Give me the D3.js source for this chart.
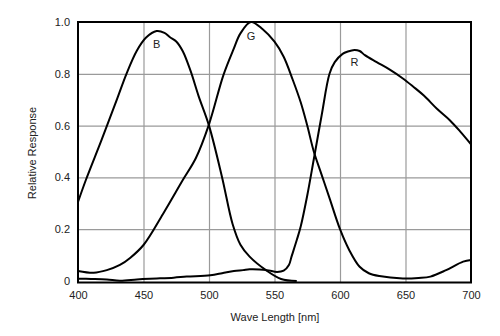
<!DOCTYPE html>
<html>
<head>
<meta charset="utf-8">
<script src="https://cdn.jsdelivr.net/npm/d3@7/dist/d3.min.js"></script>
<style>
  body { margin: 0; background: #fff; }
  svg { display: block; }
  text { font-family: "Liberation Sans", Arial, sans-serif; }
</style>
</head>
<body>
<svg id="chart" width="500" height="336"></svg>
<script>
// ---- data ----
const xTicks = [400, 450, 500, 550, 600, 650, 700];
const yTicks = [0, 0.2, 0.4, 0.6, 0.8, 1.0];
const yTickLabels = ["0", "0.2", "0.4", "0.6", "0.8", "1.0"];

const blueNm  = [400, 406, 418, 430, 437, 445, 452, 460, 466, 470, 475, 480, 486, 492, 500, 510, 518, 524, 531, 544, 555, 567];
const blueVal = [0.305, 0.39, 0.545, 0.705, 0.80, 0.89, 0.94, 0.965, 0.958, 0.942, 0.925, 0.887, 0.81, 0.715, 0.60, 0.40, 0.22, 0.14, 0.094, 0.04, 0.008, 0.0];

const greenNm  = [400, 412, 422, 432, 440, 450, 465, 480, 490, 500, 511, 519, 524, 532, 541, 550, 557, 564, 570, 575, 580, 586, 592, 600, 607, 615, 622, 630, 648, 660, 669, 681, 694, 700];
const greenVal = [0.039, 0.032, 0.042, 0.062, 0.09, 0.139, 0.26, 0.39, 0.475, 0.605, 0.795, 0.898, 0.956, 1.0, 0.972, 0.924, 0.866, 0.776, 0.69, 0.6, 0.5, 0.41, 0.32, 0.2, 0.12, 0.055, 0.03, 0.019, 0.01, 0.012, 0.017, 0.042, 0.075, 0.081];

const redNm  = [400, 410, 422, 432, 445, 455, 473, 483, 501, 510, 519, 526, 531, 544, 552, 557, 561, 563, 567, 570, 575, 580, 586, 592, 596, 602, 606, 611, 615, 619, 628, 638, 648, 656, 664, 674, 684, 692, 700];
const redVal = [0.009, 0.008, 0.006, 0.001, 0.006, 0.009, 0.013, 0.017, 0.022, 0.03, 0.039, 0.042, 0.045, 0.042, 0.035, 0.04, 0.062, 0.094, 0.158, 0.21, 0.33, 0.47, 0.64, 0.80, 0.845, 0.877, 0.886, 0.892, 0.888, 0.872, 0.845, 0.816, 0.782, 0.75, 0.716, 0.665, 0.62, 0.576, 0.528];

const curveLabels = ["B", "G", "R"];
const labelNm  = [460, 532, 611];
const labelVal = [0.91, 0.94, 0.84];

// ---- layout ----
const svg = d3.select("#chart");
const x = d3.scaleLinear().domain([400, 700]).range([78, 471]);
const y = d3.scaleLinear().domain([0, 1]).range([281, 22]);

// gridlines
svg.append("g")
  .attr("transform", `translate(0,${y(0) + 1.5})`)
  .call(d3.axisBottom(x).tickValues(xTicks.slice(1, -1)).tickSize(-(y(0) + 1.5 - y(1))).tickFormat(""))
  .call(g => g.select(".domain").remove())
  .call(g => g.selectAll("line").attr("stroke", "#9a9a9a").attr("stroke-width", 1.2));
svg.append("g")
  .attr("transform", `translate(${x(400)},0)`)
  .call(d3.axisLeft(y).tickValues(yTicks.slice(1, -1)).tickSize(-(x(700) - x(400))).tickFormat(""))
  .call(g => g.select(".domain").remove())
  .call(g => g.selectAll("line").attr("stroke", "#9a9a9a").attr("stroke-width", 1.2));

// tick labels
svg.append("g")
  .attr("transform", `translate(0,${y(0) + 2})`)
  .call(d3.axisBottom(x).tickValues(xTicks).tickSize(0).tickPadding(8).tickFormat(d3.format("d")))
  .call(g => g.select(".domain").remove())
  .call(g => g.selectAll("text").attr("font-size", 11).attr("fill", "#222").attr("font-family", "Liberation Sans, Arial, sans-serif"));
svg.append("g")
  .attr("transform", `translate(${x(400)},0)`)
  .call(d3.axisLeft(y).tickValues(yTicks).tickSize(0).tickPadding(8).tickFormat((d, i) => yTickLabels[i]))
  .call(g => g.select(".domain").remove())
  .call(g => g.selectAll("text").attr("font-size", 11).attr("fill", "#222").attr("font-family", "Liberation Sans, Arial, sans-serif"));

// frame
svg.append("rect")
  .attr("x", x(400)).attr("y", y(1))
  .attr("width", x(700) - x(400)).attr("height", y(0) + 1.5 - y(1))
  .attr("fill", "none").attr("stroke", "#000").attr("stroke-width", 2);

// curves
const line = d3.line().x(d => x(d[0])).y(d => y(d[1])).curve(d3.curveCatmullRom.alpha(0.5));
const series = [
  blueNm.map((n, i) => [n, blueVal[i]]),
  greenNm.map((n, i) => [n, greenVal[i]]),
  redNm.map((n, i) => [n, redVal[i]])
];
svg.append("g").selectAll("path").data(series).join("path")
  .attr("d", line)
  .attr("fill", "none").attr("stroke", "#000").attr("stroke-width", 2)
  .attr("stroke-linejoin", "round");

// curve labels
svg.append("g").selectAll("text").data(curveLabels).join("text")
  .attr("x", (d, i) => x(labelNm[i])).attr("y", (d, i) => y(labelVal[i]))
  .attr("text-anchor", "middle").attr("dominant-baseline", "middle")
  .attr("font-size", 11).attr("fill", "#222")
  .text(d => d);

// axis titles
svg.append("text")
  .attr("x", 275).attr("y", 318)
  .attr("text-anchor", "middle").attr("dominant-baseline", "middle")
  .attr("font-size", 11).attr("fill", "#222")
  .text("Wave Length [nm]");
svg.append("text")
  .attr("transform", "translate(33,153) rotate(-90)")
  .attr("text-anchor", "middle").attr("dominant-baseline", "middle")
  .attr("font-size", 11).attr("fill", "#222")
  .text("Relative Response");
</script>
</body>
</html>
